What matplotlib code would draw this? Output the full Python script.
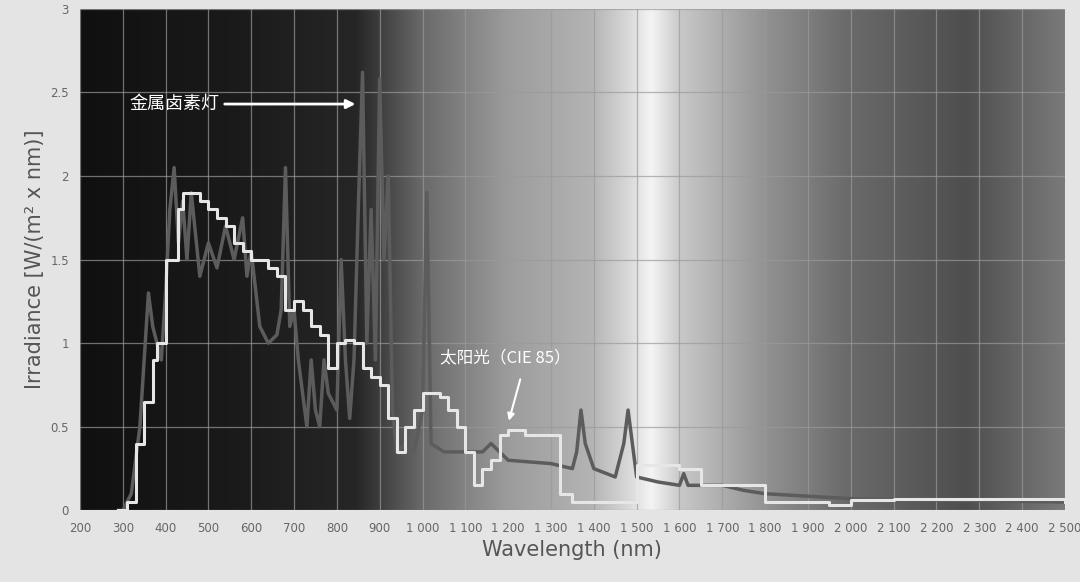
import numpy as np
import matplotlib.pyplot as plt
from matplotlib.colors import LinearSegmentedColormap

plt.rcParams['font.family'] = ['DejaVu Sans', 'Noto Sans CJK SC']

# 太阳光 (CIE 85) - 阶梯曲线
sun_wl = [290, 310, 330, 350, 370, 380, 400, 420, 430, 440, 460, 480, 500, 520, 540, 560,
          580, 600, 620, 640, 660, 680, 700, 720, 740, 760, 780, 800, 820, 840, 860, 880,
          900, 920, 940, 960, 980, 1000, 1020, 1040, 1060, 1080, 1100, 1120, 1140, 1160,
          1180, 1200, 1220, 1240, 1300, 1320, 1350, 1450, 1500, 1600, 1650, 1750, 1800,
          1950, 2000, 2100, 2500]
sun_irr = [0.0, 0.05, 0.4, 0.65, 0.9, 1.0, 1.5, 1.5, 1.8, 1.9, 1.9, 1.85, 1.8, 1.75, 1.7, 1.6,
           1.55, 1.5, 1.5, 1.45, 1.4, 1.2, 1.25, 1.2, 1.1, 1.05, 0.85, 1.0, 1.02, 1.0, 0.85, 0.8,
           0.75, 0.55, 0.35, 0.5, 0.6, 0.7, 0.7, 0.68, 0.6, 0.5, 0.35, 0.15, 0.25, 0.3,
           0.45, 0.48, 0.48, 0.45, 0.45, 0.1, 0.05, 0.05, 0.27, 0.25, 0.15, 0.15, 0.05,
           0.03, 0.06, 0.07, 0.05]

# 金属卤素灯
mh_wl = [290, 300, 320, 340, 360, 370, 390, 400, 410, 420, 430, 440, 450, 460, 470, 480, 500,
         520, 540, 560, 580, 590, 600, 620, 640, 660, 670, 680, 690, 700, 710, 720, 730, 740,
         750, 760, 770, 780, 800, 810, 820, 830, 840, 850, 860, 870, 880, 890, 900, 910, 920,
         930, 940, 960, 980, 1000, 1010, 1020, 1050, 1100, 1140, 1160, 1200, 1300, 1350, 1360,
         1370, 1380, 1400, 1450, 1470, 1480, 1490, 1500, 1550, 1600, 1610, 1620, 1700, 1750,
         1800, 2000, 2500]
mh_irr = [0.0, 0.0, 0.1, 0.5, 1.3, 1.1, 0.9, 1.3, 1.8, 2.05, 1.6, 1.85, 1.5, 1.9, 1.65, 1.4, 1.6,
          1.45, 1.7, 1.5, 1.75, 1.4, 1.55, 1.1, 1.0, 1.05, 1.2, 2.05, 1.1, 1.2, 0.9, 0.7, 0.5, 0.9,
          0.6, 0.5, 0.9, 0.7, 0.6, 1.5, 0.9, 0.55, 0.9, 1.8, 2.62, 1.0, 1.8, 0.9, 2.58, 1.5, 2.0,
          0.6, 0.35, 0.4, 0.35, 0.6, 1.9, 0.4, 0.35, 0.35, 0.35, 0.4, 0.3, 0.28, 0.25, 0.35,
          0.6, 0.4, 0.25, 0.2, 0.4, 0.6, 0.4, 0.2, 0.17, 0.15, 0.22, 0.15, 0.15, 0.12,
          0.1, 0.07, 0.05]

xticks = list(range(200, 2501, 100))
xtick_labels = [f"{v:,}".replace(",", " ") for v in xticks]
yticks = [0, 0.5, 1, 1.5, 2, 2.5, 3]
ytick_labels = ["0", "0.5", "1", "1.5", "2", "2.5", "3"]

fig = plt.figure(figsize=(10.8, 5.82), dpi=100, facecolor='#e4e4e4')
ax = fig.add_axes([0.074, 0.123, 0.912, 0.862])

# 背景渐变
cmap = LinearSegmentedColormap.from_list('bg', [
    (0.0, '#101010'), (0.15, '#1a1a1a'), (0.28, '#262626'), (0.348, '#6a6a6a'),
    (0.435, '#9c9c9c'), (0.52, '#b4b4b4'), (0.56, '#dcdcdc'), (0.58, '#f4f4f4'),
    (0.61, '#c8c8c8'), (0.7, '#909090'), (0.78, '#6a6a6a'), (0.9, '#4e4e4e'),
    (1.0, '#7a7a7a')], N=1024)
grad = np.linspace(0, 1, 1024).reshape(1, -1)
ax.imshow(grad, extent=[200, 2500, 0, 3], aspect='auto', cmap=cmap,
          interpolation='bilinear', zorder=0)

ax.plot(mh_wl, mh_irr, color='#5c5c5c', lw=2.5, zorder=3)
ax.plot(sun_wl, sun_irr, color='#e6e6e6', lw=2.2, drawstyle='steps-post', zorder=4)

ax.set_xlim(200, 2500)
ax.set_ylim(0, 3)
ax.set_xticks(xticks)
ax.set_xticklabels(xtick_labels, fontsize=8.5, color='#666666')
ax.set_yticks(yticks)
ax.set_yticklabels(ytick_labels, fontsize=8.5, color='#666666')
ax.tick_params(length=0, pad=8)
ax.grid(True, color='#9a9a9a', lw=0.9, alpha=0.7, zorder=1)
ax.set_axisbelow(False)
for s in ax.spines.values():
    s.set_visible(False)

ax.set_xlabel("Wavelength (nm)", fontsize=15, color='#555555')
ax.set_ylabel("Irradiance [W/(m² x nm)]", fontsize=15, color='#555555')

ax.annotate("金属卤素灯", xy=(850, 2.43), xytext=(315, 2.43), va='center',
            fontsize=13, color='white', family=['Noto Sans CJK SC'],
            arrowprops=dict(arrowstyle='-|>', color='white', lw=2))
ax.text(1040, 0.91, "太阳光（CIE 85）", va='center',
        fontsize=12, color='white', family=['Noto Sans CJK SC'])
ax.annotate("", xy=(1200, 0.52), xytext=(1230, 0.8),
            arrowprops=dict(arrowstyle='-|>', color='white', lw=1.5))

fig.savefig("out.png", dpi=100, facecolor=fig.get_facecolor())
